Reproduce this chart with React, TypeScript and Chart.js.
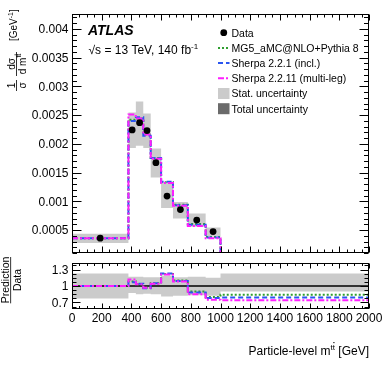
import React, { useEffect, useRef } from "react";
import { Chart, registerables } from "chart.js";
Chart.register(...registerables);

// ---------------- data ----------------
const binEdges = [0, 380, 430, 480, 530, 600, 680, 780, 900, 1000, 2000];
const dataValues = [0.000358, 0.002242, 0.002368, 0.002231, 0.001672, 0.00109, 0.000855, 0.000673, 0.000473, 0.00004];
const statUp = [0.000433, 0.002545, 0.002738, 0.002528, 0.001917, 0.001312, 0.000987, 0.000787, 0.000542, 0.00005];
const statDown = [0.000273, 0.001929, 0.001968, 0.001929, 0.001415, 0.000884, 0.0007, 0.000559, 0.000388, 0.00003];
const ratioMG5 = [1.0, 1.08, 1.03, 0.97, 1.05, 1.22, 1.1, 0.9, 0.8, 0.84];
const ratioSherpa221 = [1.0, 1.07, 1.04, 0.96, 1.05, 1.23, 1.09, 0.88, 0.78, 0.79];
const ratioSherpa2211 = [1.0, 1.12, 1.03, 0.97, 1.04, 1.21, 1.08, 0.85, 0.75, 0.74];
const ratioBandUp = [1.23, 1.17, 1.17, 1.16, 1.16, 1.19, 1.16, 1.17, 1.15, 1.23];
const ratioBandDown = [0.77, 0.87, 0.85, 0.86, 0.85, 0.81, 0.82, 0.83, 0.82, 0.9];
const mainYTicks = [0.0005, 0.001, 0.0015, 0.002, 0.0025, 0.003, 0.0035, 0.004];
const ratioYTicks = [0.7, 1, 1.3];
const xTicks = [0, 200, 400, 600, 800, 1000, 1200, 1400, 1600, 1800, 2000];
const legendLabels = ["Data", "MG5_aMC@NLO+Pythia 8", "Sherpa 2.2.1 (incl.)", "Sherpa 2.2.11 (multi-leg)", "Stat. uncertainty", "Total uncertainty"];

// ---------------- styles ----------------
const FONT = '"Liberation Sans", Arial, Helvetica, sans-serif';
const GREEN = "#2f9e2f";
const BLUE = "#2a55f0";
const MAGENTA = "#ff1dff";
const GREY = "#cbcbcb";
const DARKGREY = "#6b6b6b";
const DASH_G = [2, 2];
const DASH_B = [5, 3];
const DASH_M = [6, 2, 2, 2];

const step = (vals: number[]) => [
  ...vals.map((v, i) => ({ x: binEdges[i], y: v })),
  { x: binEdges[binEdges.length - 1], y: vals[vals.length - 1] },
];
const centers = binEdges.slice(0, -1).map((e, i) => (e + binEdges[i + 1]) / 2);
const mcMain = (ratio: number[]) => ratio.map((r, i) => r * dataValues[i]);

type Part = { t: string; size: number; dy?: number; bar?: boolean; style?: string };
function drawRich(ctx: CanvasRenderingContext2D, parts: Part[], x: number, y: number, align: string) {
  const ws: number[] = [];
  let w = 0;
  for (const p of parts) {
    ctx.font = `${p.style || ""} ${p.size}px ${FONT}`;
    const m = ctx.measureText(p.t).width;
    ws.push(m);
    w += m;
  }
  let cx = align === "right" ? x - w : align === "center" ? x - w / 2 : x;
  parts.forEach((p, i) => {
    ctx.font = `${p.style || ""} ${p.size}px ${FONT}`;
    ctx.textAlign = "left";
    ctx.textBaseline = "alphabetic";
    const yy = y + (p.dy || 0);
    ctx.fillText(p.t, cx, yy);
    if (p.bar) {
      const lw = ctx.measureText(p.t.slice(-1)).width;
      ctx.fillRect(cx + ws[i] - lw + 0.3, yy - p.size * 0.9, lw - 0.6, 0.8);
    }
    cx += ws[i];
  });
  return w;
}

function drawFrameTicks(ctx: CanvasRenderingContext2D, chart: any, yVals: { v: number; major: boolean }[], xMaj: number, xMin: number, yMaj: number, yMin: number) {
  const a = chart.chartArea;
  const xs = chart.scales.x;
  const ys = chart.scales.y;
  ctx.strokeStyle = "#000";
  ctx.lineWidth = 1;
  ctx.setLineDash([]);
  const L = Math.round(a.left) + 0.5;
  const R = Math.round(a.right) - 0.5;
  const T = Math.round(a.top) + 0.5;
  const B = Math.round(a.bottom) - 0.5;
  ctx.beginPath();
  for (let i = 0; i < xTicks.length; i++) {
    const sub = i < xTicks.length - 1 ? 4 : 1;
    for (let k = 0; k < sub; k++) {
      const v = xTicks[i] + (k * (xTicks[1] - xTicks[0])) / 4;
      const px = Math.round(xs.getPixelForValue(v)) + 0.5;
      const len = k === 0 ? xMaj : xMin;
      ctx.moveTo(px, B);
      ctx.lineTo(px, B - len);
      ctx.moveTo(px, T);
      ctx.lineTo(px, T + len);
    }
  }
  for (const t of yVals) {
    if (t.v < ys.min || t.v > ys.max) continue;
    const py = Math.round(ys.getPixelForValue(t.v)) + 0.5;
    const len = t.major ? yMaj : yMin;
    ctx.moveTo(L, py);
    ctx.lineTo(L + len, py);
    ctx.moveTo(R, py);
    ctx.lineTo(R - len, py);
  }
  ctx.stroke();
  ctx.strokeRect(L, T, R - L, B - T);
}

const mainDecor = {
  id: "mainDecor",
  afterDraw(chart: any) {
    const ctx: CanvasRenderingContext2D = chart.ctx;
    const a = chart.chartArea;
    const ys = chart.scales.y;
    ctx.save();
    const yv: { v: number; major: boolean }[] = [];
    for (let k = 1; k <= 42; k++) yv.push({ v: k * 0.0001, major: k % 5 === 0 });
    drawFrameTicks(ctx, chart, yv, 6, 3, 9, 4.5);

    ctx.fillStyle = "#000";
    ctx.font = `12px ${FONT}`;
    ctx.textAlign = "right";
    ctx.textBaseline = "alphabetic";
    for (const v of mainYTicks) {
      ctx.fillText(String(parseFloat(v.toFixed(4))), a.left - 3.5, ys.getPixelForValue(v) + 4.3);
    }

    drawRich(ctx, [{ t: "ATLAS", size: 14, style: "italic bold" }], 88, 35, "left");
    drawRich(ctx, [{ t: "\u221As = 13 TeV, 140 fb", size: 12 }, { t: "-1", size: 8, dy: -5 }], 88.5, 54, "left");

    const lx0 = 218, lx1 = 229.5, tx = 231.5;
    const rowY = (i: number) => 32.7 + i * 15.2;
    ctx.beginPath();
    ctx.arc((lx0 + lx1) / 2, rowY(0), 3.4, 0, Math.PI * 2);
    ctx.fill();
    const lineRow = (i: number, col: string, dash: number[]) => {
      ctx.save();
      ctx.strokeStyle = col;
      ctx.lineWidth = 2;
      ctx.setLineDash(dash);
      ctx.beginPath();
      ctx.moveTo(lx0, rowY(i));
      ctx.lineTo(lx1, rowY(i));
      ctx.stroke();
      ctx.restore();
    };
    lineRow(1, GREEN, DASH_G);
    lineRow(2, BLUE, DASH_B);
    lineRow(3, MAGENTA, DASH_M);
    ctx.fillStyle = GREY;
    ctx.fillRect(lx0, rowY(4) - 5.5, lx1 - lx0, 11);
    ctx.fillStyle = DARKGREY;
    ctx.fillRect(lx0, rowY(5) - 5.5, lx1 - lx0, 11);
    ctx.fillStyle = "#000";
    legendLabels.forEach((lab, i) => drawRich(ctx, [{ t: lab, size: 10.5 }], tx, rowY(i) + 3.8, "left"));

    ctx.save();
    ctx.rotate(-Math.PI / 2);
    drawRich(ctx, [{ t: "1", size: 10 }], -85.5, 15, "center");
    ctx.fillRect(-91, 16, 11, 0.8);
    drawRich(ctx, [{ t: "\u03C3", size: 10 }], -85.5, 25.5, "center");
    drawRich(ctx, [{ t: "d\u03C3", size: 10 }], -64, 15, "center");
    ctx.fillRect(-76, 16, 24, 0.8);
    drawRich(ctx, [{ t: "d m", size: 10 }, { t: "tt", size: 7, dy: -4.5, bar: true }], -64, 25.5, "center");
    drawRich(ctx, [{ t: "[GeV", size: 10 }, { t: "-1", size: 7, dy: -4.5 }, { t: "]", size: 10 }], -41, 17, "left");
    ctx.restore();
    ctx.restore();
  },
};

const ratioDecor = {
  id: "ratioDecor",
  afterDraw(chart: any) {
    const ctx: CanvasRenderingContext2D = chart.ctx;
    const a = chart.chartArea;
    const xs = chart.scales.x;
    const ys = chart.scales.y;
    ctx.save();
    const yv: { v: number; major: boolean }[] = [];
    for (let k = -2; k <= 10; k++) yv.push({ v: 0.7 + k * 0.075, major: k % 4 === 0 });
    drawFrameTicks(ctx, chart, yv, 5, 2.5, 8, 4);

    ctx.fillStyle = "#000";
    ctx.font = `12px ${FONT}`;
    ctx.textAlign = "right";
    ctx.textBaseline = "alphabetic";
    for (const v of ratioYTicks) ctx.fillText(String(v), a.left - 3.5, ys.getPixelForValue(v) + 4.3);
    ctx.textAlign = "center";
    for (const v of xTicks) ctx.fillText(String(v), xs.getPixelForValue(v), a.bottom + 13);

    drawRich(ctx, [{ t: "Particle-level m", size: 12 }, { t: "tt", size: 8, dy: -5, bar: true }, { t: " [GeV]", size: 12 }], a.right, a.bottom + 45.5, "right");

    ctx.save();
    ctx.rotate(-Math.PI / 2);
    const uc = -(280 - 257);
    const w = drawRich(ctx, [{ t: "Prediction", size: 10.5 }], uc, 8.5, "center");
    ctx.fillRect(uc - w / 2, 10.3, w, 0.8);
    drawRich(ctx, [{ t: "Data", size: 10.5 }], uc, 20.5, "center");
    ctx.restore();
    ctx.restore();
  },
};

const lineDs = (data: any[], color: string, dash: number[]) => ({
  data,
  borderColor: color,
  borderWidth: 2,
  borderDash: dash,
  pointRadius: 0,
  stepped: true,
  fill: false,
  tension: 0,
});
const bandDs = (data: any[], fill: any) => ({
  data,
  borderColor: "rgba(0,0,0,0)",
  borderWidth: 0,
  backgroundColor: GREY,
  pointRadius: 0,
  stepped: true,
  fill,
  tension: 0,
});

const baseOptions = (ymin: number, ymax: number, padding: any) => ({
  responsive: false,
  animation: false,
  events: [],
  layout: { padding },
  plugins: { legend: { display: false }, tooltip: { enabled: false } },
  scales: {
    x: { type: "linear", min: 0, max: 2000, display: false },
    y: { type: "linear", min: ymin, max: ymax, display: false },
  },
});

export default function App() {
  const mainRef = useRef<HTMLCanvasElement>(null);
  const ratioRef = useRef<HTMLCanvasElement>(null);
  useEffect(() => {
    const main = new Chart(mainRef.current as HTMLCanvasElement, {
      type: "line",
      data: {
        datasets: [
          {
            type: "scatter",
            data: dataValues.map((v, i) => ({ x: centers[i], y: v })),
            backgroundColor: "#000",
            borderWidth: 0,
            pointRadius: 3.4,
            showLine: false,
            clip: 0,
          } as any,
          lineDs(step(mcMain(ratioSherpa2211)), MAGENTA, DASH_M),
          lineDs(step(mcMain(ratioSherpa221)), BLUE, DASH_B),
          lineDs(step(mcMain(ratioMG5)), GREEN, DASH_G),
          bandDs(step(statUp), "+1"),
          bandDs(step(statDown), false),
        ],
      },
      options: baseOptions(0.0001, 0.00426, { left: 72, right: 13, top: 14, bottom: 1 }) as any,
      plugins: [mainDecor],
    });
    const ratio = new Chart(ratioRef.current as HTMLCanvasElement, {
      type: "line",
      data: {
        datasets: [
          lineDs(step(ratioSherpa2211), MAGENTA, DASH_M),
          lineDs(step(ratioSherpa221), BLUE, DASH_B),
          lineDs(step(ratioMG5), GREEN, DASH_G),
          {
            data: [
              { x: 0, y: 1 },
              { x: 2000, y: 1 },
            ],
            borderColor: "#000",
            borderWidth: 1.6,
            pointRadius: 0,
            fill: false,
          },
          bandDs(step(ratioBandUp), "+1"),
          bandDs(step(ratioBandDown), false),
        ],
      },
      options: baseOptions(0.58, 1.42, { left: 72, right: 13, top: 6, bottom: 58 }) as any,
      plugins: [ratioDecor],
    });
    return () => {
      main.destroy();
      ratio.destroy();
    };
  }, []);
  return (
    <div style={{ position: "absolute", left: 0, top: 0, width: 382, height: 367, background: "#fff" }}>
      <canvas ref={mainRef} width={382} height={257} style={{ position: "absolute", left: 0, top: 0 }} />
      <canvas ref={ratioRef} width={382} height={110} style={{ position: "absolute", left: 0, top: 257 }} />
    </div>
  );
}
